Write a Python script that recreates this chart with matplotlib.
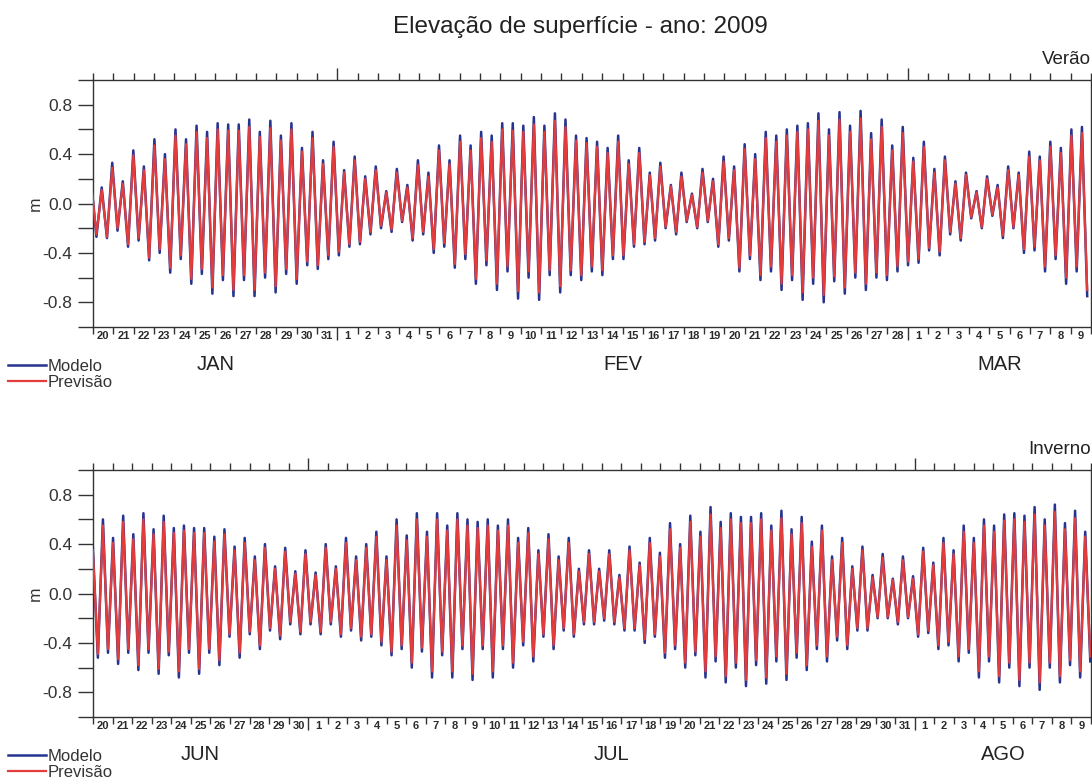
import numpy as np
import matplotlib
matplotlib.use("Agg")
import matplotlib.pyplot as plt
from matplotlib.transforms import blended_transform_factory

plt.rcParams['font.family'] = ['Liberation Sans', 'DejaVu Sans']
plt.rcParams['axes.unicode_minus'] = False

TITULO = "Elevação de superfície - ano: 2009"
SERIES = ["Modelo", "Previsão"]
COR_MODELO = "#27348f"
COR_PREVISAO = "#e33c3c"

# meio período da maré semidiurna (M2), em dias
MEIO_PERIODO = 12.42 / 24.0 / 2.0

# ---------------- Verão: 20/jan a 09/mar ----------------
verao_meses = ["JAN", "FEV", "MAR"]
verao_dias = [list(range(20, 32)), list(range(1, 29)), list(range(1, 10))]
verao_t0 = -0.09  # instante da primeira preamar (dias desde 20/jan 00h)

verao_preamar_modelo = [
    0.18, 0.13, 0.33, 0.18, 0.43, 0.30, 0.52, 0.40, 0.60, 0.52, 0.63, 0.58, 0.65, 0.64,
    0.64, 0.68, 0.58, 0.67, 0.55, 0.65, 0.45, 0.58, 0.35, 0.50, 0.27, 0.38, 0.22,
    0.30, 0.10, 0.28, 0.15, 0.35, 0.25, 0.47, 0.35, 0.55, 0.47, 0.58, 0.55, 0.65, 0.65,
    0.63, 0.70, 0.63, 0.73, 0.68, 0.55, 0.53, 0.50, 0.45, 0.55, 0.35, 0.45, 0.25, 0.33,
    0.15, 0.25, 0.08, 0.28, 0.20, 0.38,
    0.30, 0.48, 0.40, 0.58, 0.55, 0.60, 0.63, 0.65, 0.73, 0.60, 0.74, 0.63, 0.75, 0.57,
    0.68, 0.47, 0.62, 0.37, 0.50, 0.28, 0.38, 0.18, 0.25, 0.10, 0.22, 0.15, 0.30, 0.25,
    0.42, 0.38, 0.50, 0.45, 0.60, 0.62]
verao_baixamar_modelo = [
    -0.27, -0.28, -0.22, -0.35, -0.30, -0.46, -0.40, -0.56, -0.45, -0.65, -0.57, -0.73,
    -0.62, -0.75, -0.62, -0.75, -0.60, -0.72, -0.57, -0.65, -0.50, -0.53, -0.45, -0.42,
    -0.35, -0.33, -0.25,
    -0.20, -0.23, -0.15, -0.30, -0.25, -0.40, -0.35, -0.52, -0.45, -0.65, -0.50, -0.70,
    -0.55, -0.77, -0.60, -0.78, -0.58, -0.72, -0.58, -0.62, -0.55, -0.58, -0.45, -0.45,
    -0.35, -0.33, -0.30, -0.20, -0.25, -0.15, -0.20, -0.15, -0.35, -0.30,
    -0.55, -0.45, -0.62, -0.55, -0.70, -0.62, -0.78, -0.65, -0.80, -0.63, -0.73, -0.60,
    -0.70, -0.60, -0.62, -0.55, -0.50, -0.48, -0.38, -0.42, -0.25, -0.30, -0.12, -0.20,
    -0.10, -0.28, -0.20, -0.40, -0.38, -0.55, -0.45, -0.65, -0.55, -0.75]
verao_preamar_previsao = [
    0.16, 0.11, 0.29, 0.16, 0.39, 0.27, 0.47, 0.36, 0.55, 0.48, 0.58, 0.53, 0.60, 0.59,
    0.59, 0.62, 0.54, 0.61, 0.51, 0.60, 0.42, 0.53, 0.32, 0.46, 0.25, 0.35, 0.20,
    0.27, 0.09, 0.25, 0.13, 0.31, 0.22, 0.43, 0.32, 0.50, 0.43, 0.53, 0.50, 0.60, 0.59,
    0.58, 0.64, 0.58, 0.67, 0.62, 0.51, 0.49, 0.46, 0.41, 0.50, 0.32, 0.41, 0.23, 0.30,
    0.14, 0.22, 0.07, 0.25, 0.18, 0.34,
    0.27, 0.44, 0.36, 0.53, 0.50, 0.55, 0.58, 0.60, 0.67, 0.55, 0.68, 0.58, 0.69, 0.52,
    0.62, 0.43, 0.57, 0.34, 0.46, 0.25, 0.35, 0.16, 0.23, 0.09, 0.20, 0.13, 0.27, 0.23,
    0.38, 0.35, 0.46, 0.41, 0.55, 0.57]
verao_baixamar_previsao = [
    -0.25, -0.27, -0.20, -0.33, -0.28, -0.44, -0.37, -0.52, -0.42, -0.61, -0.53, -0.68,
    -0.58, -0.70, -0.58, -0.70, -0.56, -0.67, -0.53, -0.61, -0.47, -0.50, -0.42, -0.39,
    -0.33, -0.31, -0.23,
    -0.18, -0.21, -0.14, -0.28, -0.23, -0.37, -0.32, -0.49, -0.41, -0.61, -0.46, -0.65,
    -0.51, -0.71, -0.55, -0.72, -0.54, -0.67, -0.54, -0.58, -0.51, -0.54, -0.42, -0.42,
    -0.33, -0.31, -0.28, -0.19, -0.23, -0.14, -0.19, -0.14, -0.33, -0.28,
    -0.52, -0.42, -0.58, -0.51, -0.65, -0.58, -0.72, -0.60, -0.74, -0.59, -0.68, -0.56,
    -0.65, -0.56, -0.58, -0.51, -0.47, -0.45, -0.36, -0.39, -0.23, -0.28, -0.11, -0.19,
    -0.09, -0.26, -0.19, -0.37, -0.35, -0.51, -0.42, -0.60, -0.51, -0.70]

# ---------------- Inverno: 20/jun a 09/ago ----------------
inverno_meses = ["JUN", "JUL", "AGO"]
inverno_dias = [list(range(20, 31)), list(range(1, 32)), list(range(1, 10))]
inverno_t0 = -0.01

inverno_preamar_modelo = [
    0.38,
    0.60, 0.45, 0.63, 0.48, 0.65, 0.52, 0.63, 0.53, 0.55, 0.53, 0.53, 0.46, 0.52, 0.38,
    0.45, 0.30, 0.40, 0.22, 0.37, 0.18, 0.35, 0.17, 0.40, 0.22, 0.45, 0.30, 0.40,
    0.50, 0.30, 0.60, 0.47, 0.65, 0.50, 0.65, 0.55, 0.65, 0.60, 0.58, 0.60, 0.55, 0.60,
    0.45, 0.53, 0.35, 0.48, 0.30, 0.45, 0.20, 0.35, 0.20, 0.35, 0.15, 0.38, 0.25, 0.45,
    0.33, 0.57, 0.40, 0.63, 0.50, 0.70, 0.58, 0.65,
    0.62, 0.62, 0.65, 0.55, 0.67, 0.52, 0.62, 0.42, 0.55, 0.30, 0.45, 0.22, 0.38, 0.15,
    0.32, 0.12, 0.30, 0.14, 0.37, 0.25, 0.45, 0.35, 0.55, 0.45, 0.60, 0.55, 0.64, 0.65,
    0.63, 0.70, 0.60, 0.72, 0.57, 0.67, 0.50]
inverno_baixamar_modelo = [
    -0.52, -0.48, -0.57, -0.48, -0.62, -0.48, -0.65, -0.50, -0.68, -0.48, -0.65, -0.48,
    -0.58, -0.35, -0.52, -0.33, -0.45, -0.30, -0.37, -0.25, -0.33, -0.25, -0.33, -0.25,
    -0.35, -0.30, -0.38,
    -0.35, -0.42, -0.50, -0.45, -0.60, -0.47, -0.68, -0.50, -0.68, -0.45, -0.70, -0.45,
    -0.68, -0.45, -0.60, -0.42, -0.55, -0.35, -0.45, -0.30, -0.35, -0.25, -0.25, -0.22,
    -0.25, -0.30, -0.30, -0.40, -0.35, -0.52, -0.45, -0.60, -0.50, -0.68, -0.55, -0.72,
    -0.60, -0.75, -0.58, -0.73, -0.55, -0.70, -0.52, -0.62, -0.45, -0.55, -0.38, -0.45,
    -0.30, -0.30, -0.20, -0.20, -0.25, -0.20, -0.35, -0.32, -0.45, -0.42, -0.55, -0.48,
    -0.68, -0.55, -0.72, -0.60, -0.75, -0.60, -0.78, -0.60, -0.72, -0.58, -0.68, -0.55]
inverno_preamar_previsao = [
    0.35,
    0.55, 0.41, 0.58, 0.44, 0.60, 0.48, 0.58, 0.49, 0.51, 0.49, 0.49, 0.42, 0.48, 0.35,
    0.41, 0.27, 0.37, 0.20, 0.34, 0.16, 0.32, 0.15, 0.37, 0.20, 0.41, 0.27, 0.37,
    0.46, 0.27, 0.55, 0.43, 0.60, 0.46, 0.60, 0.51, 0.60, 0.55, 0.53, 0.55, 0.51, 0.55,
    0.41, 0.49, 0.32, 0.44, 0.27, 0.41, 0.18, 0.32, 0.18, 0.32, 0.13, 0.35, 0.23, 0.41,
    0.30, 0.52, 0.37, 0.58, 0.46, 0.64, 0.53, 0.60,
    0.57, 0.57, 0.60, 0.51, 0.61, 0.48, 0.57, 0.38, 0.51, 0.27, 0.41, 0.20, 0.35, 0.13,
    0.29, 0.11, 0.27, 0.12, 0.34, 0.23, 0.41, 0.32, 0.50, 0.41, 0.55, 0.50, 0.59, 0.60,
    0.58, 0.64, 0.55, 0.66, 0.52, 0.61, 0.46]
inverno_baixamar_previsao = [
    -0.49, -0.45, -0.53, -0.45, -0.58, -0.45, -0.61, -0.47, -0.63, -0.45, -0.61, -0.45,
    -0.54, -0.33, -0.48, -0.31, -0.42, -0.28, -0.34, -0.23, -0.31, -0.23, -0.31, -0.23,
    -0.33, -0.28, -0.35,
    -0.33, -0.39, -0.47, -0.42, -0.56, -0.44, -0.63, -0.47, -0.63, -0.42, -0.65, -0.42,
    -0.63, -0.42, -0.56, -0.39, -0.51, -0.33, -0.42, -0.28, -0.33, -0.23, -0.23, -0.20,
    -0.23, -0.28, -0.28, -0.37, -0.33, -0.48, -0.42, -0.56, -0.47, -0.63, -0.51, -0.67,
    -0.56, -0.70, -0.54, -0.68, -0.51, -0.65, -0.48, -0.58, -0.42, -0.51, -0.35, -0.42,
    -0.28, -0.28, -0.19, -0.19, -0.23, -0.19, -0.33, -0.30, -0.42, -0.39, -0.51, -0.45,
    -0.63, -0.51, -0.67, -0.56, -0.70, -0.56, -0.72, -0.56, -0.67, -0.54, -0.63, -0.51]

Y_TICKS = [-1.0, -0.8, -0.6, -0.4, -0.2, 0.0, 0.2, 0.4, 0.6, 0.8, 1.0]
Y_LABELS = ["", "-0.8", "", "-0.4", "", "0.0", "", "0.4", "", "0.8", ""]


def extremos(t0, preamar, baixamar):
    """Intercala preamares e baixa-mares numa série temporal."""
    alt = np.empty(len(preamar) + len(baixamar))
    alt[0::2] = preamar
    alt[1::2] = baixamar
    t = t0 + MEIO_PERIODO * np.arange(alt.size)
    return t, alt


def painel(rect, meses, dias, t0, pm_mod, bm_mod, pm_prev, bm_prev, estacao, leg_y):
    ax = fig.add_axes(rect)
    ndias = sum(len(d) for d in dias)

    t, z = extremos(t0, pm_mod, bm_mod)
    l1, = ax.plot(t, z, color=COR_MODELO, lw=1.8, zorder=2, label=SERIES[0],
                  solid_joinstyle='round')
    t, z = extremos(t0, pm_prev, bm_prev)
    l2, = ax.plot(t, z, color=COR_PREVISAO, lw=1.6, zorder=3, label=SERIES[1],
                  solid_joinstyle='round')

    ax.set_xlim(0, ndias)
    ax.set_ylim(-1.0, 1.0)

    # inícios de mês: marcas longas; dias: marcas curtas
    limites = np.cumsum([len(d) for d in dias])[:-1]
    ax.set_xticks(limites)
    ax.set_xticks(np.arange(0, ndias + 1), minor=True)
    ax.tick_params(axis='x', which='major', direction='out', length=9, width=1.0,
                   top=True, bottom=True, labelbottom=False, color='#333333')
    ax.tick_params(axis='x', which='minor', direction='out', length=5, width=1.0,
                   top=True, bottom=True, color='#333333')

    ax.set_yticks(Y_TICKS)
    ax.set_yticklabels(Y_LABELS)
    ax.tick_params(axis='y', direction='out', length=11, width=1.0, pad=4,
                   labelsize=12.5, colors='#333333')

    for s in ax.spines.values():
        s.set_color('#333333')
        s.set_linewidth(1.0)

    tr = blended_transform_factory(ax.transData, ax.transAxes)
    i = 0
    inicio = 0
    for nome, lista in zip(meses, dias):
        for d in lista:
            ax.text(i + 0.5, -0.038, str(d), transform=tr, ha='center', va='center',
                    fontsize=8, fontweight='bold', color='#2a2a2a')
            i += 1
        ax.text((inicio + i) / 2.0, -0.152, nome, transform=tr, ha='center',
                va='center', fontsize=14.5, color='#222222')
        inicio = i

    ax.text(-0.058, 0.5, "m", transform=ax.transAxes, rotation=90, ha='center',
            va='center', fontsize=12.5, color='#333333')
    ax.text(1.0, 1.085, estacao, transform=ax.transAxes, ha='right', va='center',
            fontsize=13.5, color='#222222')

    fig.legend(handles=[l1, l2], loc='upper left',
               bbox_to_anchor=(8 / 1092, 1 - leg_y / 783), bbox_transform=fig.transFigure,
               frameon=False, fontsize=12, handlelength=2.3, handletextpad=0.1,
               labelspacing=0.05, borderpad=0, borderaxespad=0, labelcolor='#333333')
    return ax


fig = plt.figure(figsize=(10.92, 7.83), dpi=100)
fig.text(580 / 1092, 1 - 27 / 783, TITULO, ha='center', va='center', fontsize=17.5,
         color='#222222')

W = 998 / 1092
H = 247 / 783
L = 93 / 1092
painel([L, 1 - 327 / 783, W, H], verao_meses, verao_dias, verao_t0,
       verao_preamar_modelo, verao_baixamar_modelo,
       verao_preamar_previsao, verao_baixamar_previsao, "Verão", 359)
painel([L, 1 - 717 / 783, W, H], inverno_meses, inverno_dias, inverno_t0,
       inverno_preamar_modelo, inverno_baixamar_modelo,
       inverno_preamar_previsao, inverno_baixamar_previsao, "Inverno", 749)

fig.savefig("out.png", dpi=100)
